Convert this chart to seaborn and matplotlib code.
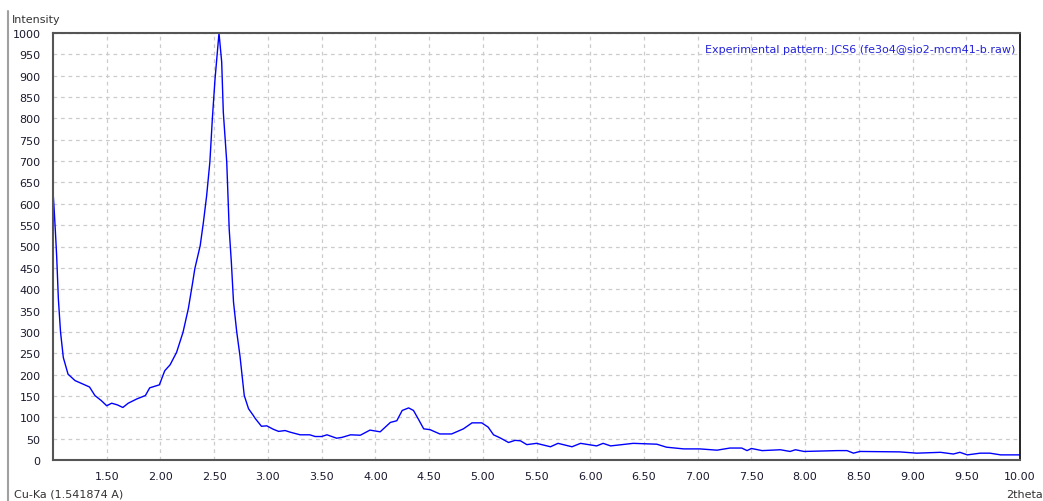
import matplotlib
matplotlib.use("Agg")
import matplotlib.pyplot as plt
import seaborn as sns
from matplotlib.lines import Line2D

# XRD pattern (2theta, intensity)
two_theta = [1.00, 1.01, 1.022, 1.034, 1.05, 1.07, 1.096, 1.14, 1.205, 1.34,
             1.39, 1.45, 1.50, 1.546, 1.60, 1.65, 1.70, 1.78, 1.86, 1.90,
             1.99, 2.04, 2.09, 2.15, 2.21, 2.26, 2.30, 2.32, 2.37, 2.40,
             2.43, 2.46, 2.483, 2.508, 2.545, 2.57, 2.585, 2.617, 2.64, 2.66,
             2.68, 2.71, 2.74, 2.78, 2.82, 2.865, 2.88, 2.94, 2.99, 3.05,
             3.10, 3.16, 3.21, 3.30, 3.39, 3.44, 3.50, 3.55, 3.64, 3.69,
             3.77, 3.86, 3.95, 4.045, 4.14, 4.20, 4.25, 4.31, 4.355, 4.40,
             4.45, 4.51, 4.60, 4.71, 4.82, 4.90, 4.99, 5.05, 5.10, 5.16,
             5.24, 5.30, 5.35, 5.41, 5.50, 5.63, 5.70, 5.83, 5.91, 6.06,
             6.12, 6.19, 6.40, 6.62, 6.71, 6.87, 7.02, 7.18, 7.30, 7.41,
             7.46, 7.50, 7.60, 7.77, 7.86, 7.91, 7.99, 8.30, 8.39, 8.45,
             8.51, 8.88, 9.04, 9.26, 9.38, 9.44, 9.51, 9.63, 9.72, 9.82,
             10.00]
intensity = [630, 590, 536, 478, 377, 300, 240, 201, 186, 171,
             151, 139, 127, 133, 129, 123, 133, 143, 151, 169,
             176, 209, 223, 252, 299, 355, 416, 448, 502, 557,
             619, 698, 799, 892, 1000, 932, 815, 698, 540, 463,
             370, 300, 244, 151, 120, 104, 98, 79, 80, 72,
             67, 69, 65, 59, 59, 55, 55, 59, 51, 53,
             59, 58, 70, 66, 88, 92, 116, 122, 116, 96,
             73, 71, 61, 61, 73, 87, 87, 77, 59, 52,
             41, 46, 45, 36, 39, 31, 39, 31, 39, 33,
             39, 33, 39, 37, 30, 26, 26, 23, 28, 28,
             22, 27, 22, 24, 20, 24, 20, 22, 22, 16,
             20, 19, 16, 18, 14, 18, 12, 16, 16, 12,
             12]

x_ticks = [1.5 + 0.5 * i for i in range(18)]
y_ticks = list(range(0, 1001, 50))

sns.set_style("white")
plt.rcParams["font.family"] = ["DejaVu Sans"]

fig = plt.figure(figsize=(10.43, 5.02), dpi=100)
ax = fig.add_axes([53 / 1043, 1 - 461 / 502, (1020 - 53) / 1043, (461 - 34) / 502])

sns.lineplot(x=two_theta, y=intensity, ax=ax, color="#0000ff", linewidth=1.0)

ax.set_xlim(1.0, 10.0)
ax.set_ylim(0, 1000)
ax.set_xticks(x_ticks)
ax.set_xticklabels([f"{t:.2f}" for t in x_ticks])
ax.set_yticks(y_ticks)
ax.set_yticklabels([str(t) for t in y_ticks])
ax.grid(True, color="#cccccc", linestyle=(0, (3, 3)), linewidth=0.9)
ax.tick_params(axis="both", labelsize=8, colors="#404040", labelcolor="#1a1a2e",
               direction="out", length=5, width=1, pad=3)
ax.tick_params(axis="y", length=6)
for side in ["left", "bottom", "top"]:
    ax.spines[side].set_color("#555555")
    ax.spines[side].set_linewidth(1.5)
ax.spines["right"].set_color("#000000")
ax.spines["right"].set_linewidth(1.2)
ax.set_xlabel("")
ax.set_ylabel("")

ax.text(0.995, 0.975, "Experimental pattern: JCS6 (fe3o4@sio2-mcm41-b.raw)",
        transform=ax.transAxes, ha="right", va="top", fontsize=8, color="#2323d8")

fig.text(12 / 1043, 1 - 20 / 502, "Intensity", ha="left", va="center",
         fontsize=8, color="#333333")
fig.text(14 / 1043, 1 - 495 / 502, "Cu-Ka (1.541874 A)", ha="left", va="center",
         fontsize=8, color="#333333")
fig.text(1043 / 1043, 1 - 495 / 502, "2theta", ha="right", va="center",
         fontsize=8, color="#333333")

# gray panel border on the left
fig.add_artist(Line2D([8 / 1043, 8 / 1043], [0, 1 - 12 / 502],
                      transform=fig.transFigure, color="#a0a0a0", linewidth=1.5))

fig.savefig("out.png", dpi=100, facecolor="white")
